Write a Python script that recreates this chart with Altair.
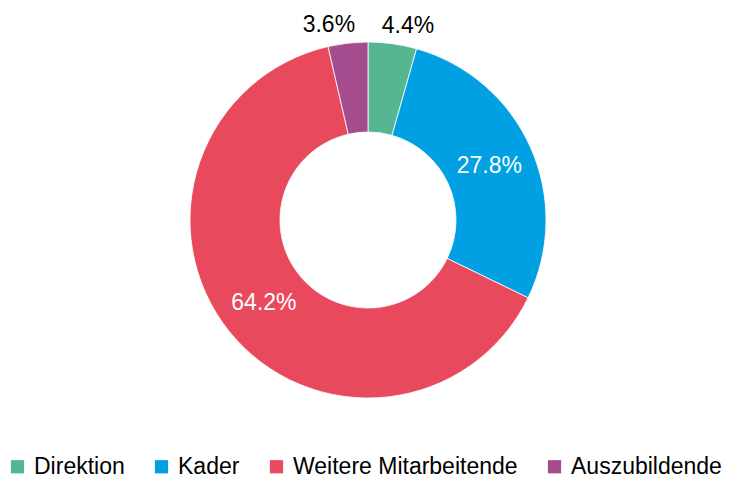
import altair as alt
import pandas as pd

categories = ["Direktion", "Kader", "Weitere Mitarbeitende", "Auszubildende"]
values = [4.4, 27.8, 64.2, 3.6]
labels = ["4.4%", "27.8%", "64.2%", "3.6%"]
colors = ["#55b691", "#00a0e3", "#e8495d", "#a54c8e"]

df = pd.DataFrame({"cat": categories, "val": values, "label": labels, "order": list(range(len(categories)))})

CX, CY = 360, 212
FONT = "Liberation Sans"
FS = 23

base = alt.Chart(df).encode(
    theta=alt.Theta("val:Q", stack=True),
    order=alt.Order("order:Q"),
)

arcs = base.mark_arc(outerRadius=178, innerRadius=88, stroke="white", strokeWidth=0.8).encode(
    x=alt.value(CX), y=alt.value(CY),
    color=alt.Color(
        "cat:N",
        scale=alt.Scale(domain=categories, range=colors),
        sort=categories,
        legend=alt.Legend(
            title=None, orient="none", direction="horizontal",
            legendX=-2, legendY=447, symbolType="square", symbolSize=175,
            symbolStrokeWidth=0, labelFont=FONT, labelFontSize=FS, labelColor="#000000",
            labelOffset=5, columnPadding=25, symbolOffset=0, labelLimit=400, padding=0,
        ),
    ),
)

inner = base.mark_text(radius=133, font=FONT, fontSize=FS, color="white", baseline="middle").encode(
    x=alt.value(CX), y=alt.value(CY),
    text=alt.condition("datum.cat == 'Kader' || datum.cat == 'Weitere Mitarbeitende'", alt.Text("label:N"), alt.value("")),
)

out1 = base.mark_text(radius=196, dx=13, font=FONT, fontSize=FS, color="black", baseline="middle").encode(
    x=alt.value(CX), y=alt.value(CY),
    text=alt.condition("datum.cat == 'Direktion'", alt.Text("label:N"), alt.value("")),
)
out2 = base.mark_text(radius=196, dx=-17, font=FONT, fontSize=FS, color="black", baseline="middle").encode(
    x=alt.value(CX), y=alt.value(CY),
    text=alt.condition("datum.cat == 'Auszubildende'", alt.Text("label:N"), alt.value("")),
)

chart = alt.layer(arcs, inner, out1, out2).properties(
    width=718, height=472, autosize=alt.AutoSizeParams(type="none"), padding=0
).configure_view(stroke=None)

chart.save("out.html", embed_options={"renderer": "svg", "actions": False})
